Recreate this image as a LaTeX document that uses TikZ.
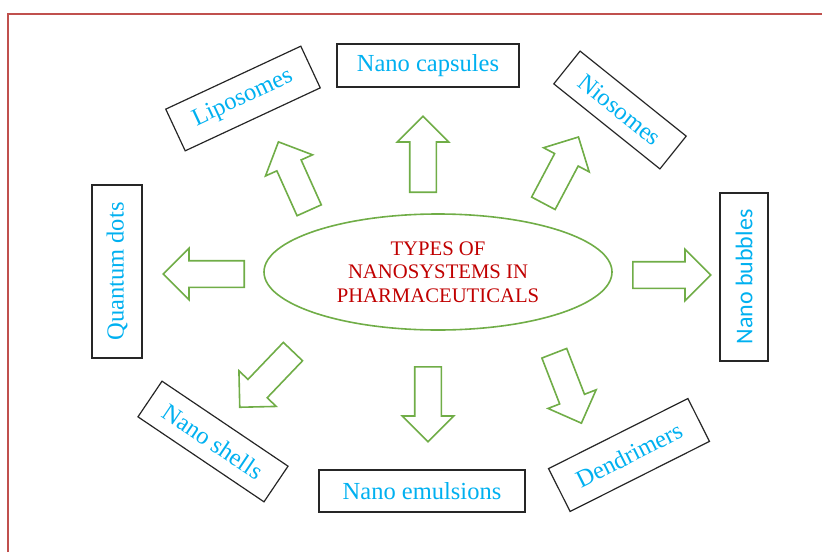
\documentclass[tikz,border=0pt]{standalone}
\usepackage{fontspec}
\setmainfont{Liberation Serif}
\newfontfamily\sansfont{Carlito}
\usetikzlibrary{shapes}
\usetikzlibrary{shapes.geometric}
\usetikzlibrary{shapes.arrows}
\definecolor{labelblue}{HTML}{00B0F0}
\definecolor{titlered}{HTML}{C00000}
\definecolor{arrowgreen}{HTML}{70AD47}
\definecolor{framered}{HTML}{C0504D}
\tikzset{
    mybox/.style = {rectangle, line width=2pt, draw=black!85, align=center, inner sep=0pt, font=\fontsize{24.5}{29}\selectfont, text=labelblue},
    myboxn/.style = {rectangle, line width=1.2pt, draw=black!85, align=center, inner sep=0pt, font=\fontsize{24.5}{29}\selectfont, text=labelblue},
    myellipse/.style = {ellipse, line width=1.6pt, draw=arrowgreen, align=center, inner sep=0pt, font=\fontsize{20.7}{23.5}\selectfont, text=titlered},
    myarrow/.style = {single arrow, anchor=tail, line width=1.6pt, draw=arrowgreen, fill=white, inner xsep=0pt, inner ysep=12.5pt, minimum width=50pt, minimum height=76pt, single arrow head extend=12.5pt, single arrow head indent=0pt},
    myframe/.style = {line width=1.8pt, draw=framered}
}
\begin{document}
\begin{tikzpicture}[x=1pt, y=-1pt]
  \useasboundingbox (0,0) rectangle (822,552);
  \draw[myframe] (8,552) -- (8,14) -- (822,14); % page frame

  \node[myellipse, minimum width=348pt, minimum height=116pt] (types) at (438,272)
    {TYPES OF\\NANOSYSTEMS IN\\PHARMACEUTICALS};

  % labels
  \node[mybox, minimum width=182pt, minimum height=43pt] (capsules) at (428,65.5) {Nano capsules};
  \node[myboxn, minimum width=149pt, minimum height=46pt, rotate=25] (liposomes) at (243,98.5) {Liposomes};
  \node[myboxn, minimum width=136pt, minimum height=42pt, rotate=-38.7] (niosomes) at (620,110) {Niosomes};
  \node[mybox, minimum width=168pt, minimum height=48pt, rotate=90, font=\sansfont\fontsize{24}{29}\selectfont] (bubbles) at (744,277) {Nano bubbles};
  \node[mybox, minimum width=173pt, minimum height=50pt, rotate=90] (qdots) at (117,271.5) {Quantum dots};
  \node[myboxn, minimum width=152pt, minimum height=43pt, rotate=-34] (shells) at (213,441.5) {Nano shells};
  \node[mybox, minimum width=206pt, minimum height=42pt] (emulsions) at (422,491) {Nano emulsions};
  \node[myboxn, minimum width=156pt, minimum height=48pt, rotate=26.7] (dendrimers) at (629,455) {Dendrimers};

  % block arrows, placed at their tails
  \node[myarrow, rotate=90] (arrcapsules) at (423,193) {};
  \node[myarrow, rotate=-90, minimum height=75pt] (arremulsions) at (428,366) {};
  \node[myarrow, rotate=180, minimum height=81pt] (arrqdots) at (245,274) {};
  \node[myarrow, minimum height=78pt] (arrbubbles) at (632,275) {};
  \node[myarrow, rotate=114.2, minimum height=75pt] (arrliposomes) at (309.5,211) {};
  \node[myarrow, rotate=62.1, minimum height=75pt] (arrniosomes) at (543,204) {};
  \node[myarrow, rotate=226.3, minimum height=77pt] (arrshells) at (293.5,351) {};
  \node[myarrow, rotate=-68.8, minimum height=75pt] (arrdendrimers) at (554,352.5) {};

\end{tikzpicture}
\end{document}
